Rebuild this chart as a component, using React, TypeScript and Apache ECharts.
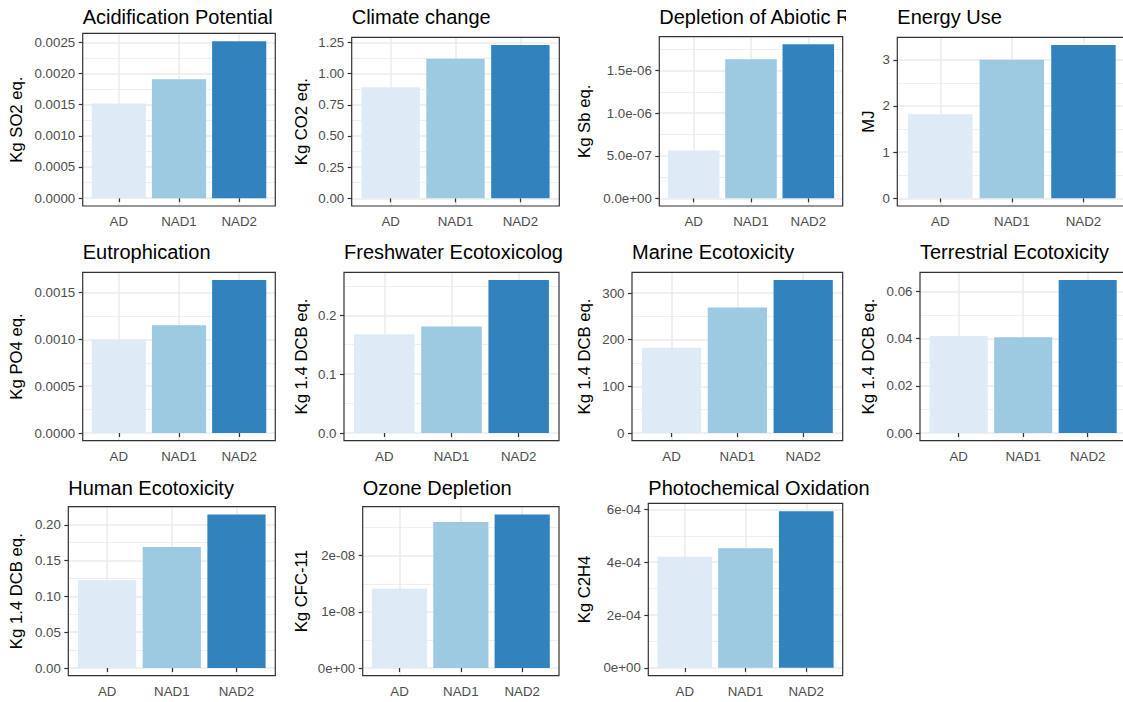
import React, { useEffect, useRef } from 'react';
import * as echarts from 'echarts';

// ---------------- data ----------------
const categories = ['AD', 'NAD1', 'NAD2'];
const barColors = ['#DEEBF7', '#9ECAE1', '#3182BD'];

const acidificationValues = [0.00152, 0.00191, 0.00252];
const climateChangeValues = [0.89, 1.12, 1.23];
const abioticDepletionValues = [5.63e-7, 1.635e-6, 1.81e-6];
const energyUseValues = [1.82, 3.0, 3.32];
const eutrophicationValues = [0.001, 0.00115, 0.001635];
const freshwaterValues = [0.168, 0.181, 0.26];
const marineValues = [183, 269, 328];
const terrestrialValues = [0.0411, 0.0406, 0.0648];
const humanValues = [0.1225, 0.169, 0.2145];
const ozoneValues = [1.415e-8, 2.6e-8, 2.735e-8];
const photochemicalValues = [4.21e-4, 4.525e-4, 5.935e-4];

const acidificationTicks = ['0.0000', '0.0005', '0.0010', '0.0015', '0.0020', '0.0025'];
const climateChangeTicks = ['0.00', '0.25', '0.50', '0.75', '1.00', '1.25'];
const abioticDepletionTicks = ['0.0e+00', '5.0e-07', '1.0e-06', '1.5e-06'];
const energyUseTicks = ['0', '1', '2', '3'];
const eutrophicationTicks = ['0.0000', '0.0005', '0.0010', '0.0015'];
const freshwaterTicks = ['0.0', '0.1', '0.2'];
const marineTicks = ['0', '100', '200', '300'];
const terrestrialTicks = ['0.00', '0.02', '0.04', '0.06'];
const humanTicks = ['0.00', '0.05', '0.10', '0.15', '0.20'];
const ozoneTicks = ['0e+00', '1e-08', '2e-08'];
const photochemicalTicks = ['0e+00', '2e-04', '4e-04', '6e-04'];

const panels = [
  { title: 'Acidification Potential', unit: 'Kg SO2 eq.', values: acidificationValues, ticks: acidificationTicks },
  { title: 'Climate change', unit: 'Kg CO2 eq.', values: climateChangeValues, ticks: climateChangeTicks },
  { title: 'Depletion of Abiotic Resources', unit: 'Kg Sb eq.', values: abioticDepletionValues, ticks: abioticDepletionTicks },
  { title: 'Energy Use', unit: 'MJ', values: energyUseValues, ticks: energyUseTicks },
  { title: 'Eutrophication', unit: 'Kg PO4 eq.', values: eutrophicationValues, ticks: eutrophicationTicks },
  { title: 'Freshwater Ecotoxicology', unit: 'Kg 1.4 DCB eq.', values: freshwaterValues, ticks: freshwaterTicks },
  { title: 'Marine Ecotoxicity', unit: 'Kg 1.4 DCB eq.', values: marineValues, ticks: marineTicks },
  { title: 'Terrestrial Ecotoxicity', unit: 'Kg 1.4 DCB eq.', values: terrestrialValues, ticks: terrestrialTicks },
  { title: 'Human Ecotoxicity', unit: 'Kg 1.4 DCB eq.', values: humanValues, ticks: humanTicks },
  { title: 'Ozone Depletion', unit: 'Kg CFC-11', values: ozoneValues, ticks: ozoneTicks },
  { title: 'Photochemical Oxidation', unit: 'Kg C2H4', values: photochemicalValues, ticks: photochemicalTicks },
];

// ---------------- layout (panel boxes: left, top, right, bottom) ----------------
const boxes = [
  [82.7, 33.3, 275.3, 206],
  [351.7, 37.3, 559.3, 206],
  [659.3, 36.6, 842.7, 206],
  [897.3, 37.3, 1126.4, 206],
  [82.7, 272.3, 275.3, 440.7],
  [344, 272.3, 559, 440.7],
  [632, 272.3, 842.7, 440.7],
  [920, 272.3, 1126.4, 440.7],
  [68.3, 506.7, 275.3, 675.7],
  [362.7, 506.7, 559, 675.7],
  [648.3, 503.3, 842.7, 675.7],
];
// titles that run past their plot's area are cut at the next plot's edge:
// [width kept as whole glyphs, x of the cut]
const titleClip: Record<number, [number, number]> = { 2: [197, 846], 5: [227, 563] };
const nameCenterX = [16, 301.5, 584.5, 868];
const titleTop = [7.1, 242.4, 478];
const FONT = "'Liberation Sans', Arial, Helvetica, sans-serif";
const TICK_COLOR = '#4D4D4D';
const DARK = '#333333';
const GRID_COLOR = '#EBEBEB';

function buildOption() {
  const grid: any[] = [];
  const xAxis: any[] = [];
  const yAxis: any[] = [];
  const series: any[] = [];
  const title: any[] = [];
  const graphics: any[] = [];

  panels.forEach((p, i) => {
    const [L, T, R, B] = boxes[i];
    const col = i % 4;
    const row = Math.floor(i / 4);
    const w = R - L;
    const h = B - T;
    const unitPx = w / 3.2;
    const tickVals = p.ticks.map(Number);
    const step = tickVals[1] - tickVals[0];
    const maxV = Math.max(...p.values);

    grid.push({
      left: L, top: T, width: w, height: h,
      show: false, containLabel: false, outerBoundsMode: 'none',
    });

    xAxis.push({
      type: 'value', gridIndex: i, min: 0.4, max: 3.6,
      minInterval: 1, maxInterval: 1,
      axisLine: { show: false },
      axisTick: { show: true, length: 4, customValues: [1, 2, 3], lineStyle: { color: DARK, width: 1.2 } },
      axisLabel: {
        show: true, customValues: [1, 2, 3], margin: 9,
        color: TICK_COLOR, fontSize: 13.3, fontFamily: FONT,
        formatter: (v: number) => {
          const k = Math.round(v);
          return Math.abs(v - k) < 1e-6 && k >= 1 && k <= 3 ? categories[k - 1] : '';
        },
      },
      splitLine: { show: true, lineStyle: { color: GRID_COLOR, width: 1.5 } },
      minorSplitLine: { show: false },
    });

    yAxis.push({
      type: 'value', gridIndex: i,
      min: -0.05 * maxV, max: 1.05 * maxV,
      minInterval: step, maxInterval: step, splitNumber: tickVals.length,
      name: p.unit, nameLocation: 'middle', nameRotate: 90,
      nameGap: L - nameCenterX[col],
      nameMoveOverlap: false,
      nameTextStyle: { color: '#000', fontSize: 16.7, fontFamily: FONT, align: 'center', verticalAlign: 'middle' },
      axisLine: { show: false },
      axisTick: { show: true, length: 4, customValues: tickVals, lineStyle: { color: DARK, width: 1.2 } },
      axisLabel: {
        show: true, customValues: tickVals, margin: 7.5,
        color: TICK_COLOR, fontSize: 13.3, fontFamily: FONT,
        formatter: (v: number) => {
          const idx = tickVals.findIndex((t) => Math.abs(t - v) < step * 1e-6);
          return idx >= 0 ? p.ticks[idx] : '';
        },
      },
      splitLine: { show: true, lineStyle: { color: GRID_COLOR, width: 1.5 } },
      minorTick: { show: false, splitNumber: 2 },
      minorSplitLine: { show: true, lineStyle: { color: GRID_COLOR, width: 0.8 } },
    });

    series.push({
      type: 'bar', name: p.title, xAxisIndex: i, yAxisIndex: i,
      barWidth: unitPx * 0.9,
      data: p.values.map((v, k) => ({ value: [k + 1, v], itemStyle: { color: barColors[k] } })),
    });

    const clip = titleClip[i];
    const textStyle: any = { color: '#000', fontSize: 20, fontWeight: 'normal', fontFamily: FONT };
    if (clip) {
      textStyle.width = clip[0];
      textStyle.overflow = 'truncate';
      textStyle.ellipsis = '';
    }
    title.push({
      text: p.title, left: L, top: titleTop[row], padding: 0,
      z: 6,
      textStyle,
    });
    if (clip) {
      graphics.push({
        type: 'rect', silent: true, z: 8,
        shape: { x: clip[1], y: titleTop[row] - 4, width: 30, height: 32 },
        style: { fill: '#fff' },
      });
    }

    graphics.push({
      type: 'rect', silent: true, z: 5,
      shape: { x: L, y: T, width: w, height: h },
      style: { fill: 'none', stroke: DARK, lineWidth: 1.2 },
    });
  });

  return {
    animation: false,
    backgroundColor: '#fff',
    title, grid, xAxis, yAxis, series,
    graphic: { elements: graphics },
  };
}

export default function App() {
  const ref = useRef<HTMLDivElement>(null);
  useEffect(() => {
    if (!ref.current) return;
    const chart = echarts.init(ref.current, null, { renderer: 'svg' });
    chart.setOption(buildOption() as any);
    return () => chart.dispose();
  }, []);
  return (
    <div
      ref={ref}
      style={{ position: 'fixed', left: 0, top: 0, width: 1123, height: 702, background: '#fff' }}
    />
  );
}
